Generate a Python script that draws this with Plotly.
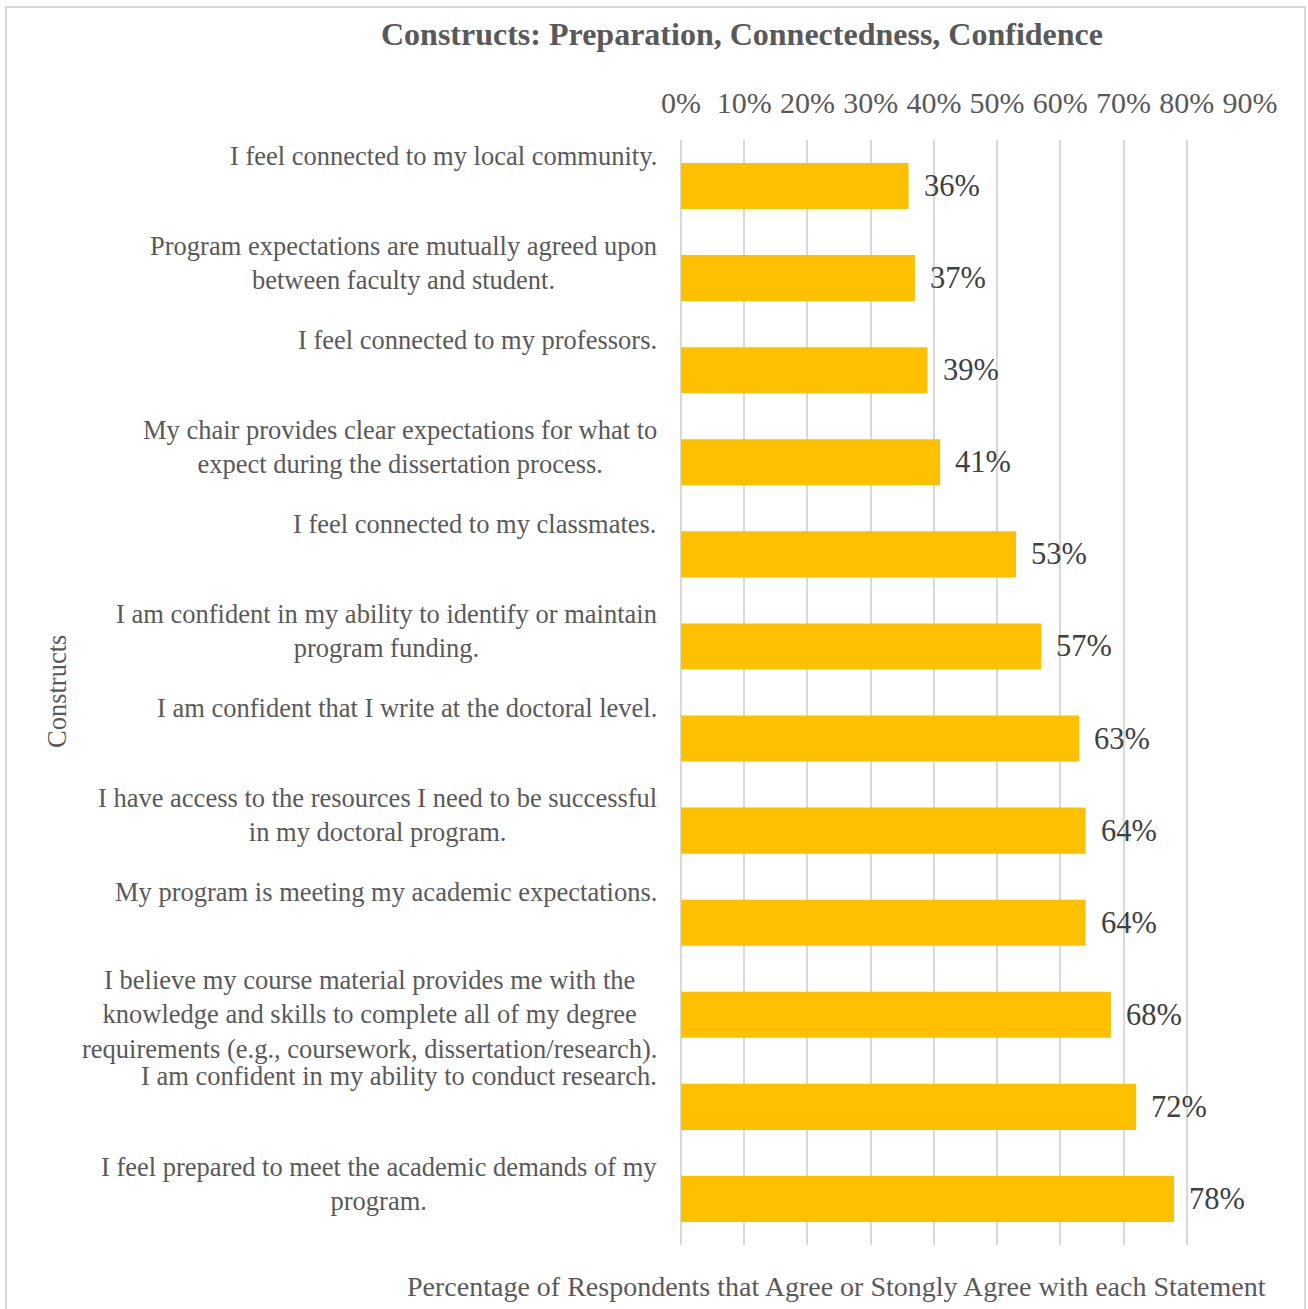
import plotly.graph_objects as go

categories = [
    "I feel connected to my local community.",
    "Program expectations are mutually agreed upon<br>between faculty and student.",
    "I feel connected to my professors.",
    "My chair provides clear expectations for what to<br>expect during the dissertation process.",
    "I feel connected to my classmates.",
    "I am confident in my ability to identify or maintain<br>program funding.",
    "I am confident that I write at the doctoral level.",
    "I have access to the resources I need to be successful<br>in my doctoral program.",
    "My program is meeting my academic expectations.",
    "I believe my course material provides me with the<br>knowledge and skills to complete all of my degree<br>requirements (e.g., coursework, dissertation/research).",
    "I am confident in my ability to conduct research.",
    "I feel prepared to meet the academic demands of my<br>program.",
]
values = [0.36, 0.37, 0.39, 0.41, 0.53, 0.57, 0.63, 0.64, 0.64, 0.68, 0.72, 0.78]
keys = [f"c{i}" for i in range(len(categories))]

title_text = "Constructs: Preparation, Connectedness, Confidence"
x_title = "Percentage of Respondents that Agree or Stongly Agree with each Statement"
y_title = "Constructs"

FONT = "Liberation Serif, Times New Roman, serif"
W, H = 1308, 1309
L, R, T, B = 681, 1251, 140, 1245
XMAX = 0.9 * (R - L) / 569.0

fig = go.Figure(go.Bar(
    x=values, y=keys, orientation="h", width=0.5,
    marker=dict(color="#FFC000", line=dict(width=0)),
    hoverinfo="skip",
))

annotations = []
LABEL_SIZE = 26.5
LINE = 30.5  # reference line pitch
for k, lab in zip(keys, categories):
    n = len(lab.split("<br>"))
    # blocks are top-aligned: first line one line above the band centre
    annotations.append(dict(
        x=0, xref="paper", y=k, yref="y", xanchor="right", yanchor="middle",
        xshift=-22, yshift=LINE - (n - 1) / 2 * LINE, text=lab, showarrow=False,
        align="center",
        font=dict(family=FONT, size=LABEL_SIZE, color="#595959"),
    ))
for k, v in zip(keys, values):
    annotations.append(dict(
        x=v, y=k, xref="x", yref="y", xanchor="left", yanchor="middle",
        xshift=13, text=f"{round(v*100)}%", showarrow=False,
        font=dict(family=FONT, size=30.5, color="#404040"),
    ))
annotations.append(dict(
    x=(57 - L) / (R - L), y=(B - 692) / (B - T), xref="paper", yref="paper",
    xanchor="center", yanchor="middle", textangle=-90, text=y_title,
    showarrow=False, font=dict(family=FONT, size=26.5, color="#595959"),
))
annotations.append(dict(
    x=(836 - L) / (R - L), y=(B - 1286) / (B - T), xref="paper", yref="paper",
    xanchor="center", yanchor="middle", text=x_title,
    showarrow=False, font=dict(family=FONT, size=28, color="#595959"),
))

fig.update_layout(
    width=W, height=H,
    margin=dict(l=L, r=W - R, t=T, b=H - B, autoexpand=False),
    paper_bgcolor="white", plot_bgcolor="white",
    showlegend=False,
    title=dict(text=f"<b>{title_text}</b>", x=742 / W, xanchor="center",
               y=1 - 34 / H, yanchor="middle",
               font=dict(family=FONT, size=32, color="#595959")),
    xaxis=dict(side="top", range=[0, XMAX], tickvals=[i / 10 for i in range(10)],
               tickformat=".0%",
               showgrid=True, gridcolor="#D9D9D9", gridwidth=2,
               zeroline=True, zerolinecolor="#D9D9D9", zerolinewidth=2,
               showline=False, ticks="", ticklabelstandoff=20,
               tickfont=dict(family=FONT, size=30, color="#595959")),
    yaxis=dict(type="category", categoryorder="array", categoryarray=keys,
               range=[len(keys) - 0.5, -0.5], autorange=False,
               showticklabels=False,
               showgrid=False, zeroline=False, showline=False, ticks=""),
    annotations=annotations,
    shapes=[dict(type="rect", xref="paper", yref="paper",
                 x0=(6 - L) / (R - L), x1=(1305 - L) / (R - L),
                 y0=(B - 1320) / (B - T), y1=(B - 7) / (B - T),
                 line=dict(color="#D9D9D9", width=2), layer="below")],
)

fig.write_html("out.html")
